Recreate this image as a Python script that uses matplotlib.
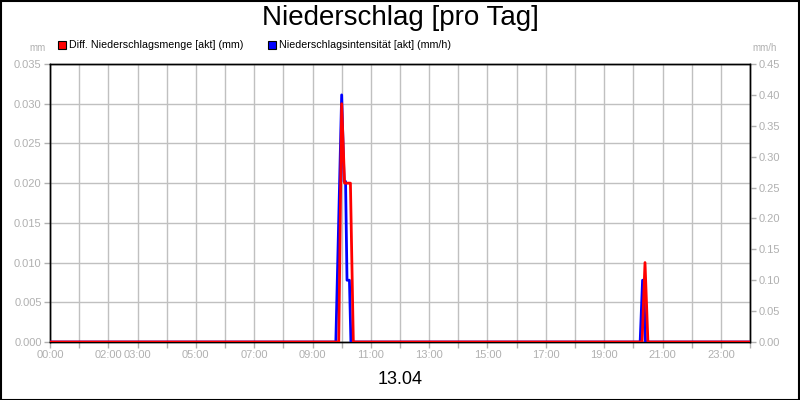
import numpy as np
import matplotlib
matplotlib.use("Agg")
import matplotlib.pyplot as plt
from matplotlib.patches import Rectangle

plt.rcParams['font.family'] = ['Liberation Sans', 'DejaVu Sans']

# Diff. Niederschlagsmenge (mm), left axis
red_times = ['00:00', '09:54', '10:00', '10:06', '10:18', '10:24',
             '20:18', '20:24', '20:30', '24:00']
red_vals = [0, 0, 0.030, 0.020, 0.020, 0, 0, 0.010, 0, 0]

# Niederschlagsintensitaet (mm/h), right axis
blue_times = ['00:00', '09:48', '10:00', '10:05', '10:08', '10:11', '10:16', '10:19',
              '20:14', '20:19', '20:21', '20:25', '24:00']
blue_vals = [0, 0, 0.40, 0.26, 0.26, 0.10, 0.10, 0,
             0, 0.10, 0.10, 0, 0]

hour_labels = ['00:00', '02:00', '03:00', '05:00', '07:00', '09:00', '11:00',
               '13:00', '15:00', '17:00', '19:00', '21:00', '23:00']

title = 'Niederschlag [pro Tag]'
date_label = '13.04'
legend_red = 'Diff. Niederschlagsmenge [akt] (mm)'
legend_blue = 'Niederschlagsintensität [akt] (mm/h)'


def to_hours(ts):
    out = []
    for t in ts:
        h, m = t.split(':')
        out.append(int(h) + int(m) / 60.0)
    return np.array(out)


grey = '#b0b0b0'
W, H = 800, 400
fig = plt.figure(figsize=(8, 4), dpi=100)
ax = fig.add_axes([50 / W, (H - 342) / H, 700 / W, 278 / H])
ax2 = ax.twinx()

ax.set_xlim(0, 24)
ax.set_ylim(0, 0.035)
ax2.set_ylim(0, 0.45)

ax.set_xticks(range(25))
lab = {int(s[:2]): s for s in hour_labels}
ax.set_xticklabels([lab.get(i, '') for i in range(25)])
ax.set_yticks(np.arange(0, 0.0351, 0.005))
ax.set_yticklabels(['%.3f' % v for v in np.arange(0, 0.0351, 0.005)])
ax2.set_yticks(np.arange(0, 0.451, 0.05))
ax2.set_yticklabels(['%.2f' % v for v in np.arange(0, 0.451, 0.05)])

ax.grid(True, color='#c0c0c0', linewidth=1.0)
ax.set_axisbelow(True)
for a in (ax, ax2):
    a.tick_params(colors=grey, labelcolor=grey, labelsize=8, length=4, width=1, pad=2)
    for s in a.spines.values():
        s.set_color('black')
        s.set_linewidth(1)

ax2.plot(to_hours(blue_times), blue_vals, color='#0000ff', linewidth=2.0, zorder=3)
ax2.plot(to_hours(red_times), np.array(red_vals) * 0.45 / 0.035, color='#ff0000',
         linewidth=2.0, zorder=4)

fig.text(0.5, (H - 18) / H, title, ha='center', va='center', fontsize=20)
fig.text(0.5, (H - 380) / H, date_label, ha='center', va='center', fontsize=13)
fig.text(46 / W, (H - 48) / H, 'mm', ha='right', va='center', fontsize=7, color=grey)
fig.text(765 / W, (H - 48) / H, 'mm/h', ha='center', va='center', fontsize=7, color=grey)

for x0, col, txt in [(58, '#ff0000', legend_red), (268, '#0000ff', legend_blue)]:
    fig.patches.append(Rectangle((x0 / W, (H - 49) / H), 8 / W, 8 / H,
                                 transform=fig.transFigure, facecolor=col,
                                 edgecolor='black', linewidth=0.8))
    fig.text((x0 + 11) / W, (H - 45) / H, txt, ha='left', va='center', fontsize=7.7)

fig.patches.append(Rectangle((0.5 / W, 0.5 / H), 1 - 1.5 / W, 1 - 1.5 / H,
                             transform=fig.transFigure, fill=False,
                             edgecolor='black', linewidth=1.5))

fig.savefig('out.png', dpi=100)
